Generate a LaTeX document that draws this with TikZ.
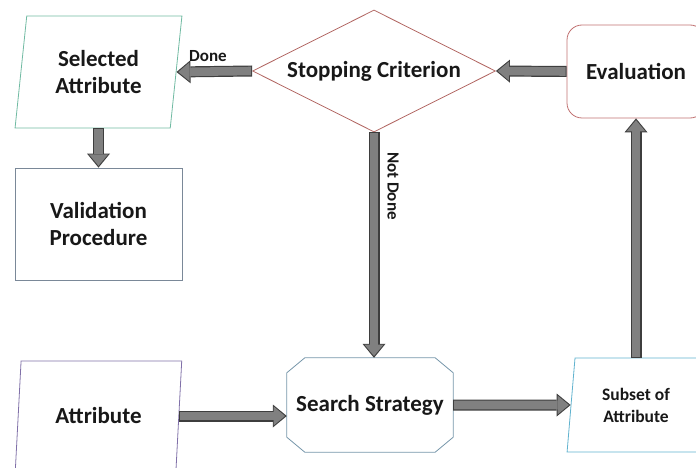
\documentclass[tikz,border=0pt]{standalone}
\usepackage{fontspec}
\setmainfont{Carlito}
\usetikzlibrary{arrows.meta,shapes.geometric}

\definecolor{selcol}{RGB}{112,186,162}
\definecolor{stopcol}{RGB}{178,104,100}
\definecolor{evalcol}{RGB}{192,112,112}
\definecolor{validcol}{RGB}{122,136,152}
\definecolor{attrcol}{RGB}{128,112,168}
\definecolor{searchcol}{RGB}{118,150,170}
\definecolor{subcol}{RGB}{96,178,206}
\definecolor{arrowline}{RGB}{62,62,62}
\definecolor{arrowfill}{RGB}{128,128,128}
\definecolor{txtcol}{RGB}{24,24,24}

\tikzset{
    boxtext/.style={text=txtcol, align=center, font=\fontsize{23}{27}\selectfont\bfseries},
    smalltext/.style={text=txtcol, font=\fontsize{17}{20}\selectfont\bfseries},
    parbox/.style={boxtext, draw=#1, line width=0.8pt, trapezium, trapezium stretches=true,
        trapezium left angle=81.4, trapezium right angle=98.6},
    flowarrow/.style={draw=arrowline, line width=11pt,
        -{Triangle[length=14pt,width=23pt,line width=0pt]},
        postaction={draw=arrowfill, line width=8.6pt, shorten >=1.8pt, shorten <=1pt,
            -{Triangle[length=11.3pt,width=19pt,line width=0pt]}}}
}

\begin{document}
\begin{tikzpicture}[x=1pt,y=-1pt]
    \useasboundingbox (0,0) rectangle (696,468);

    % boxes
    \node[parbox=selcol, minimum width=167pt, minimum height=112pt] (selected) at (98.5,72) {Selected\\Attribute};
    \node[boxtext, draw=validcol, line width=0.8pt, minimum width=167pt, minimum height=112pt] (valid) at (98.5,224) {Validation\\Procedure};
    \node[boxtext, draw=stopcol, line width=0.8pt, diamond, aspect=2, minimum width=243pt, minimum height=122pt, inner sep=0pt] (stop) at (374,71) {Stopping Criterion};
    \node[boxtext, draw=evalcol, line width=0.8pt, rounded corners=15pt, minimum width=138pt, minimum height=93pt] (eval) at (636,71.5) {Evaluation};
    \node[parbox=attrcol, minimum width=167pt, minimum height=110pt] (attr) at (98.5,416) {Attribute};
    \node[boxtext, minimum width=166pt, minimum height=94pt] (search) at (370,405) {Search Strategy};
    \draw[searchcol, line width=0.8pt] ([xshift=18pt]search.north west) -- ([xshift=-18pt]search.north east)
        -- ([yshift=-15pt]search.north east) -- ([yshift=15pt]search.south east)
        -- ([xshift=-18pt]search.south east) -- ([xshift=18pt]search.south west)
        -- ([yshift=15pt]search.south west) -- ([yshift=-15pt]search.north west) -- cycle;
    \node[parbox=subcol, trapezium left angle=83.3, trapezium right angle=96.7, minimum width=138pt, minimum height=94pt,
        font=\fontsize{17.5}{22}\selectfont\bfseries] (subset) at (636,405) {Subset of\\Attribute};

    % connectors
    \draw[flowarrow] (stop.west) -- (selected.east);
    \draw[flowarrow] (eval.west) -- (stop.east);
    \draw[flowarrow] (selected.center |- selected.south) -- (valid.north);
    \draw[flowarrow] (stop.south) -- (stop.south |- search.north);
    \draw[flowarrow] (attr.east) -- (attr.east -| search.west);
    \draw[flowarrow] (search.east) -- (subset.west);
    \draw[flowarrow] (subset.center |- subset.north) -- (eval.south);

    % labels
    \node[smalltext] (done) at (208,56) {Done};
    \node[smalltext, rotate=-90] (notdone) at (393,186) {Not Done};
\end{tikzpicture}
\end{document}
